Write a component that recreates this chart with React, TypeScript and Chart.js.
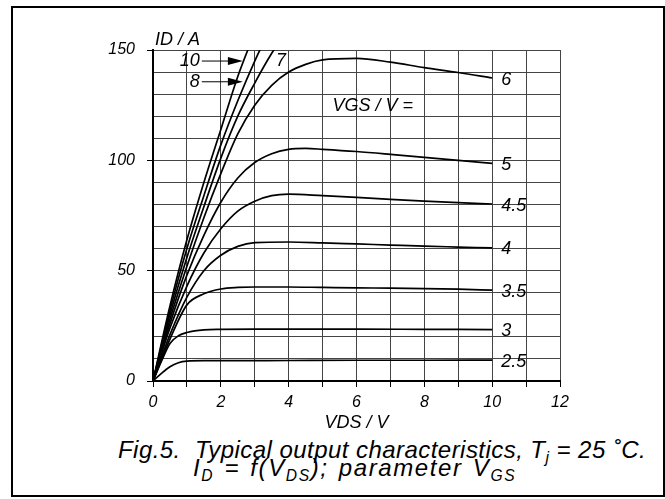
import React, { useEffect, useRef } from "react";
import { Chart, registerables } from "chart.js";

Chart.register(...registerables);

// Gate-source voltage parameter for each curve (V)
const vgsLabels = ["10", "8", "7", "6", "5", "4.5", "4", "3.5", "3", "2.5"];

// Drain-source voltage samples (V) and drain current (A) per curve
const vds10 = [0, 0.5, 1, 1.5, 2, 2.5, 3];
const id10 = [0, 34, 64, 90, 114, 138, 158];
const vds8 = [0, 0.5, 1, 1.5, 2, 2.5, 3, 3.5];
const id8 = [0, 32, 60, 84, 107, 127, 145, 161];
const vds7 = [0, 0.5, 1, 1.5, 2, 2.5, 3, 3.5, 4];
const id7 = [0, 30, 56, 79, 101, 120, 135, 148.5, 160];
const vds6 = [0, 0.5, 1, 1.5, 2, 2.5, 3, 3.5, 4, 4.5, 5, 6, 7, 8, 9, 10];
const id6 = [0, 28, 52, 74, 94, 112, 125, 134, 140, 143.5, 145.5, 146.2, 144.5, 142, 139.8, 137.3];
const vds5 = [0, 0.5, 1, 1.5, 2, 2.5, 3, 3.5, 4, 4.5, 5, 6, 7, 8, 9, 10];
const id5 = [0, 26, 48, 66, 81, 92, 99, 103, 105, 105.4, 105, 104, 102.7, 101.3, 100, 98.6];
const vds45 = [0, 0.5, 1, 1.5, 2, 2.5, 3, 3.5, 4, 5, 6, 7, 8, 9, 10];
const id45 = [0, 24, 43, 58, 69, 77, 81.5, 84, 84.7, 84, 83.2, 82.3, 81.5, 80.8, 80.2];
const vds4 = [0, 0.5, 1, 1.5, 2, 2.5, 3, 4, 5, 6, 7, 8, 9, 10];
const id4 = [0, 21, 38, 50, 57, 61, 62.7, 63, 62.6, 62.1, 61.6, 61.1, 60.7, 60.3];
const vds35 = [0, 0.5, 1, 1.5, 2, 2.5, 3, 4, 5, 6, 7, 8, 9, 10];
const id35 = [0, 19, 34.5, 39.5, 41.7, 42.4, 42.6, 42.6, 42.4, 42.2, 42.1, 41.9, 41.6, 41.2];
const vds3 = [0, 0.25, 0.5, 0.75, 1, 1.5, 2, 3, 4, 6, 8, 10];
const id3 = [0, 9, 17, 20.5, 22, 23.2, 23.4, 23.5, 23.5, 23.5, 23.4, 23.3];
const vds25 = [0, 0.25, 0.5, 0.75, 1, 1.5, 2, 4, 6, 8, 10];
const id25 = [0, 3.5, 6.5, 8.3, 9, 9.2, 9.2, 9.3, 9.4, 9.4, 9.5];

const vdsSeries = [vds10, vds8, vds7, vds6, vds5, vds45, vds4, vds35, vds3, vds25];
const idSeries = [id10, id8, id7, id6, id5, id45, id4, id35, id3, id25];

// Axis tick labels
const xTickLabels = ["0", "2", "4", "6", "8", "10", "12"];
const yTickLabels = ["0", "50", "100", "150"];

const FONT = '"Liberation Sans", Arial, sans-serif';

Chart.defaults.font.family = FONT;
Chart.defaults.font.style = "italic";
Chart.defaults.font.size = 16;
Chart.defaults.color = "#000";

const annotate = {
  id: "annotate",
  afterDatasetsDraw(chart: any) {
    const { ctx, scales } = chart;
    const x = scales.x;
    const y = scales.y;
    ctx.save();
    ctx.fillStyle = "#000";
    ctx.strokeStyle = "#000";
    ctx.font = `italic 18px ${FONT}`;
    ctx.textBaseline = "middle";

    // labels at the right end of the curves 6 ... 2.5
    for (let i = 3; i < chart.data.datasets.length; i++) {
      const ds = chart.data.datasets[i];
      const last = ds.data[ds.data.length - 1];
      ctx.textAlign = "left";
      ctx.fillText(ds.label, x.getPixelForValue(last.x) + 9, y.getPixelForValue(last.y) + 1.5);
    }

    // labels with arrows for 10 and 8
    const arrowItems = [
      { text: chart.data.datasets[0].label, at: 145 },
      { text: chart.data.datasets[1].label, at: 135.6 },
    ];
    arrowItems.forEach((a) => {
      const py = y.getPixelForValue(a.at);
      const tx = x.getPixelForValue(1.38);
      const tip = x.getPixelForValue(2.65);
      ctx.textAlign = "right";
      ctx.fillText(a.text, tx, py);
      ctx.lineWidth = 1;
      ctx.beginPath();
      ctx.moveTo(tx + 2, py);
      ctx.lineTo(tip - 14, py);
      ctx.stroke();
      ctx.beginPath();
      ctx.moveTo(tip, py);
      ctx.lineTo(tip - 15, py - 4);
      ctx.lineTo(tip - 15, py + 4);
      ctx.closePath();
      ctx.fill();
    });

    // label 7
    ctx.textAlign = "left";
    ctx.fillText(chart.data.datasets[2].label, x.getPixelForValue(3.63), y.getPixelForValue(145.1));

    // parameter heading
    ctx.textBaseline = "alphabetic";
    ctx.fillText("VGS / V =", x.getPixelForValue(5.29), y.getPixelForValue(122.3));

    // axis titles
    ctx.fillText("ID / A", chart.chartArea.left + 2, chart.chartArea.top - 5);
    ctx.textAlign = "center";
    ctx.fillText("VDS / V", (chart.chartArea.left + chart.chartArea.right) / 2, chart.chartArea.bottom + 47);
    ctx.restore();
  },
};

export default function App() {
  const ref = useRef<HTMLCanvasElement | null>(null);

  useEffect(() => {
    if (!ref.current) return;
    const datasets = vgsLabels.map((lab, i) => ({
      label: lab,
      data: vdsSeries[i].map((v, k) => ({ x: v, y: idSeries[i][k] })),
      borderColor: "#000",
      borderWidth: 1.7,
      pointRadius: 0,
      fill: false,
      cubicInterpolationMode: "monotone" as const,
    }));
    const tickFont = { family: FONT, size: 16, style: "italic" as const };
    const chart = new Chart(ref.current, {
      type: "line",
      data: { datasets },
      options: {
        animation: false,
        responsive: false,
        layout: { padding: { top: 50, right: 105, left: 0, bottom: 0 } },
        plugins: { legend: { display: false }, tooltip: { enabled: false } },
        scales: {
          x: {
            type: "linear",
            min: 0,
            max: 12,
            afterFit: (s: any) => {
              s.height = 49;
            },
            ticks: {
              stepSize: 1,
              autoSkip: false,
              maxRotation: 0,
              padding: 6,
              color: "#000",
              font: tickFont,
              callback: (v: any) => {
                const s = String(v);
                return xTickLabels.includes(s) ? s : "";
              },
            },
            grid: { color: "#444", lineWidth: 1, tickLength: 6, tickColor: "#000" },
            border: { color: "#000", width: 2 },
          },
          y: {
            type: "linear",
            min: 0,
            max: 150,
            afterFit: (s: any) => {
              s.width = 153;
            },
            ticks: {
              stepSize: 10,
              autoSkip: false,
              padding: 12,
              color: "#000",
              font: tickFont,
              callback: (v: any) => {
                const s = String(v);
                return yTickLabels.includes(s) ? s : "";
              },
            },
            grid: {
              color: "#444",
              lineWidth: 1,
              tickLength: 6,
              tickColor: (c: any) =>
                c.tick && yTickLabels.includes(String(c.tick.value)) ? "#000" : "rgba(0,0,0,0)",
            },
            border: { color: "#000", width: 2 },
          },
        },
      },
      plugins: [annotate],
    });
    return () => chart.destroy();
  }, []);

  const sub: React.CSSProperties = { fontSize: "0.65em", position: "relative", top: "0.3em", lineHeight: 0 };
  const cap: React.CSSProperties = {
    position: "absolute",
    fontFamily: FONT,
    fontStyle: "italic",
    fontSize: 24,
    lineHeight: "24px",
    whiteSpace: "pre",
    color: "#000",
  };

  return (
    <div style={{ position: "absolute", left: 0, top: 0, width: 665, height: 499, background: "#fff" }}>
      <div
        style={{
          position: "absolute",
          left: 11,
          top: 6,
          width: 654,
          height: 491,
          boxSizing: "border-box",
          border: "2px solid #000",
        }}
      />
      <canvas ref={ref} width={665} height={430} style={{ position: "absolute", left: 0, top: 0 }} />
      <div style={{ ...cap, left: 118, top: 438, letterSpacing: "0.45px" }}>
        {"Fig.5.  Typical output characteristics, T"}
        <span style={sub}>j</span>
        {" = 25 ˚C."}
      </div>
      <div style={{ ...cap, left: 193, top: 456, letterSpacing: "1.6px", wordSpacing: "2px" }}>
        {"I"}
        <span style={sub}>D</span>
        {" = f(V"}
        <span style={sub}>DS</span>
        {"); parameter V"}
        <span style={sub}>GS</span>
      </div>
    </div>
  );
}
